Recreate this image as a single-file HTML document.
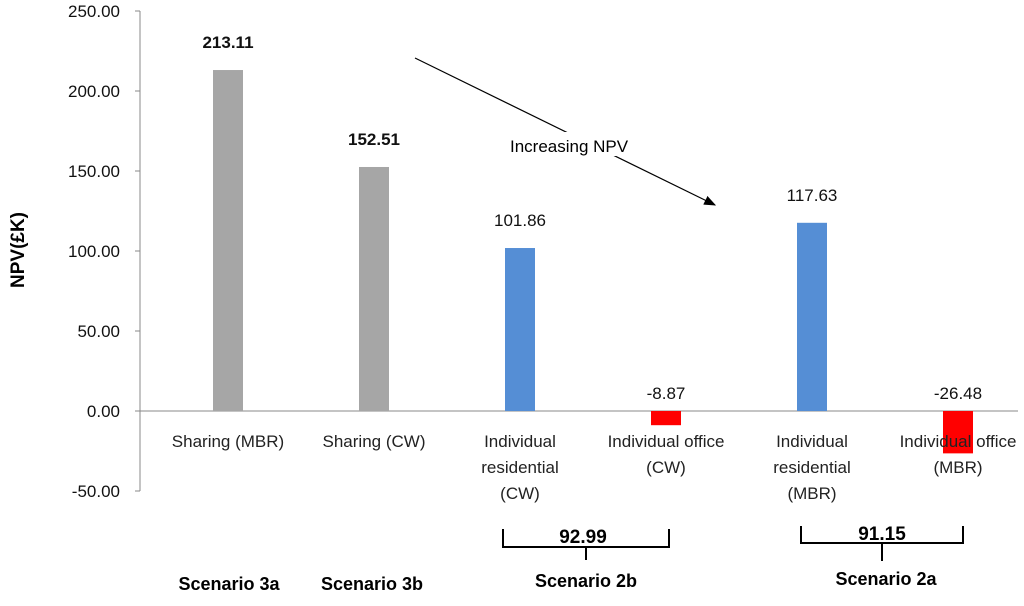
<!DOCTYPE html>
<html><head><meta charset="utf-8"><style>
body{margin:0;background:#fff;}
svg text{font-family:"Liberation Sans",sans-serif;}
</style></head><body>
<svg id="c" width="1024" height="601">
<g id="g"></g>
<g><text transform="translate(24,250) rotate(-90)" text-anchor="middle" font-size="19" font-weight="bold">NPV(£K)</text></g>
<defs><marker id="ah" markerWidth="10" markerHeight="8" refX="9" refY="4" orient="auto"><path d="M0,0L10,4L0,8z" fill="#000"/></marker></defs>
<line x1="415" y1="58" x2="715" y2="205" stroke="#000" stroke-width="1.2" marker-end="url(#ah)"/>
<rect x="505" y="132" width="150" height="24" fill="#fff"/>
<text x="510" y="152" font-size="17">Increasing NPV</text>
<path d="M503,529 V547 H586 V560 M586,547 H669 V529" fill="none" stroke="#000" stroke-width="2"/>
<text x="583" y="543" text-anchor="middle" font-size="19" font-weight="bold">92.99</text>
<path d="M801,526 V543 H882 V561 M882,543 H963 V526" fill="none" stroke="#000" stroke-width="2"/>
<text x="882" y="540" text-anchor="middle" font-size="19" font-weight="bold">91.15</text>
<text x="229" y="590" text-anchor="middle" font-size="18" font-weight="bold">Scenario 3a</text>
<text x="372" y="590" text-anchor="middle" font-size="18" font-weight="bold">Scenario 3b</text>
<text x="586" y="587" text-anchor="middle" font-size="18" font-weight="bold">Scenario 2b</text>
<text x="886" y="585" text-anchor="middle" font-size="18" font-weight="bold">Scenario 2a</text>
</svg>
<script>
const categories=[["Sharing (MBR)"],["Sharing (CW)"],["Individual","residential","(CW)"],["Individual office","(CW)"],["Individual","residential","(MBR)"],["Individual office","(MBR)"]];
const values=[213.11,152.51,101.86,-8.87,117.63,-26.48];
const colors=["#a6a6a6","#a6a6a6","#558ed5","#ff0000","#558ed5","#ff0000"];
const boldLabel=[true,true,false,false,false,false];
const ticks=[-50,0,50,100,150,200,250];
const NS="http://www.w3.org/2000/svg";
const g=document.getElementById('g');
const y0=411,ppu=1.6;
const y=v=>y0-v*ppu;
const cx=i=>228+146*i;
function el(t,a,txt){const e=document.createElementNS(NS,t);for(const k in a)e.setAttribute(k,a[k]);if(txt!==undefined)e.textContent=txt;g.appendChild(e);return e;}
let e=el('line',{x1:140,y1:y(250),x2:140,y2:y(-50),stroke:'#888'});


ticks.forEach(t=>{
 let l=el('line',{x1:135,x2:140,y1:y(t),y2:y(t),stroke:'#888'});
 
 
 let tx=el('text',{x:120,y:y(t)+6,'text-anchor':'end','font-size':17,fill:'#111'},t.toFixed(2));
 
 
});
e=el('line',{x1:140,y1:y0,x2:1018,y2:y0,stroke:'#888'});


values.forEach((v,i)=>{
 let r=el('rect',{x:cx(i)-15,y:Math.min(y(v),y0),width:30,height:Math.abs(v*ppu),fill:colors[i]});
 
 
 let ly=v>=0?y(v)-22:y(0)-12;
 let t=el('text',{x:cx(i),y:ly,'text-anchor':'middle','font-size':17,'font-weight':boldLabel[i]?'bold':'normal',fill:'#111'},v.toFixed(2));
 
 
 categories[i].forEach((s,j)=>{
  let c=el('text',{x:cx(i),y:447+26*j,'text-anchor':'middle','font-size':17,fill:'#222'},s);
  
  
 });
});
</script>
</body></html>
